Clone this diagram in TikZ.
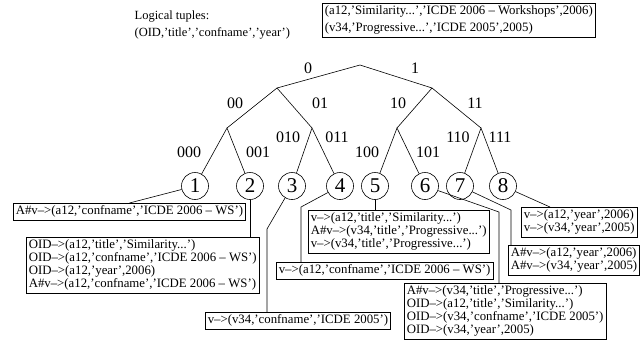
\documentclass[tikz,border=0pt]{standalone}
\usepackage{fontspec}
\setmainfont{Liberation Serif}

\begin{document}
\begin{tikzpicture}[x=1pt,y=-1pt,line width=0.6pt,
    leaf/.style={circle,draw,minimum size=27pt,inner sep=0pt,font=\fontsize{21}{21}\selectfont},
    bits/.style={font=\fontsize{16}{16}\selectfont},
    tuples/.style={draw,align=left,anchor=north west,inner sep=2.5pt,font=\fontsize{12.8}{13}\selectfont}]

\useasboundingbox (0,0) rectangle (642,341);

% logical tuples
\node[anchor=west,align=left,font=\fontsize{12.5}{17}\selectfont] (lt) at (131,25) {Logical tuples:\\(OID,'title','confname','year')};
\node[tuples,font=\fontsize{12.8}{17}\selectfont] (top) at (322,3) {(a12,'Similarity...','ICDE 2006 -- Workshops',2006)\\(v34,'Progressive...','ICDE 2005',2005)};

% inner points of the trie
\coordinate (n) at (360,65);
\coordinate (n0) at (277,88);
\coordinate (n1) at (432,88);
\coordinate (n00) at (227,128);
\coordinate (n01) at (312,128);
\coordinate (n10) at (397,128);
\coordinate (n11) at (481,128);

% leaves
\node[leaf] (c1) at (195,186) {1};
\node[leaf] (c2) at (250,186) {2};
\node[leaf] (c3) at (292,186) {3};
\node[leaf] (c4) at (340,186) {4};
\node[leaf] (c5) at (375,186) {5};
\node[leaf] (c6) at (425,186) {6};
\node[leaf] (c7) at (460,186) {7};
\node[leaf] (c8) at (503,186) {8};

% edges
\draw (n0) -- (n) -- (n1);
\draw (n00) -- (n0) -- (n01);
\draw (n10) -- (n1) -- (n11);
\draw (c1) -- (n00) -- (c2);
\draw (c3) -- (n01) -- (c4);
\draw (c5) -- (n10) -- (c6);
\draw (c7) -- (n11) -- (c8);

% edge labels
\node[bits] (b0) at (308,68) {0};
\node[bits] (b1) at (415,68) {1};
\node[bits] (b00) at (235,103) {00};
\node[bits] (b01) at (320,103) {01};
\node[bits] (b10) at (398,103) {10};
\node[bits] (b11) at (475,103) {11};
\node[bits] (b000) at (189,152) {000};
\node[bits] (b001) at (258,152) {001};
\node[bits] (b010) at (288,137) {010};
\node[bits] (b011) at (337,137) {011};
\node[bits] (b100) at (367,152) {100};
\node[bits] (b101) at (428,152) {101};
\node[bits] (b110) at (458,137) {110};
\node[bits] (b111) at (500,137) {111};

% physical tuples per leaf
\node[tuples] (t1) at (13,203) {A\#v–>(a12,'confname','ICDE 2006 -- WS')};
\node[tuples] (t2) at (26,237) {OID–>(a12,'title','Similarity...')\\OID–>(a12,'confname','ICDE 2006 -- WS')\\OID–>(a12,'year',2006)\\A\#v–>(a12,'confname','ICDE 2006 -- WS')};
\node[tuples] (t3) at (205,312) {v–>(v34,'confname','ICDE 2005')};
\node[tuples] (t4) at (276,262) {v–>(a12,'confname','ICDE 2006 -- WS')};
\node[tuples] (t5) at (308,210) {v–>(a12,'title','Similarity...')\\A\#v–>(v34,'title','Progressive...')\\v–>(v34,'title','Progressive...')};
\node[tuples] (t6) at (404,283) {A\#v–>(v34,'title','Progressive...')\\OID–>(a12,'title','Similarity...')\\OID–>(v34,'confname','ICDE 2005')\\OID–>(v34,'year',2005)};
\node[tuples] (t7) at (508,245) {A\#v–>(a12,'year',2006)\\A\#v–>(v34,'year',2005)};
\node[tuples] (t8) at (521,207) {v–>(a12,'year',2006)\\v–>(v34,'year',2005)};

% bends of the links
\coordinate (k3) at (267,229);
\coordinate (k4) at (301,207);
\coordinate (k6) at (499,212);
\coordinate (k7) at (511,210);
\coordinate (k8) at (550,207);

% links from leaves to tuples
\draw (c1) -- (t1.north);
\draw (c2.south) -- (c2.south |- t2.north);
\draw (c3) -- (k3) -- (k3 |- t3.north);
\draw (c4) -- (k4) -- (k4 |- t4.north);
\draw (c5.south) -- (c5.south |- t5.north);
\draw (c6) -- (k6) -- (k6 |- t6.north);
\draw (c7) -- (k7) -- (k7 |- t7.north);
\draw (c8) -- (k8);

\end{tikzpicture}
\end{document}
